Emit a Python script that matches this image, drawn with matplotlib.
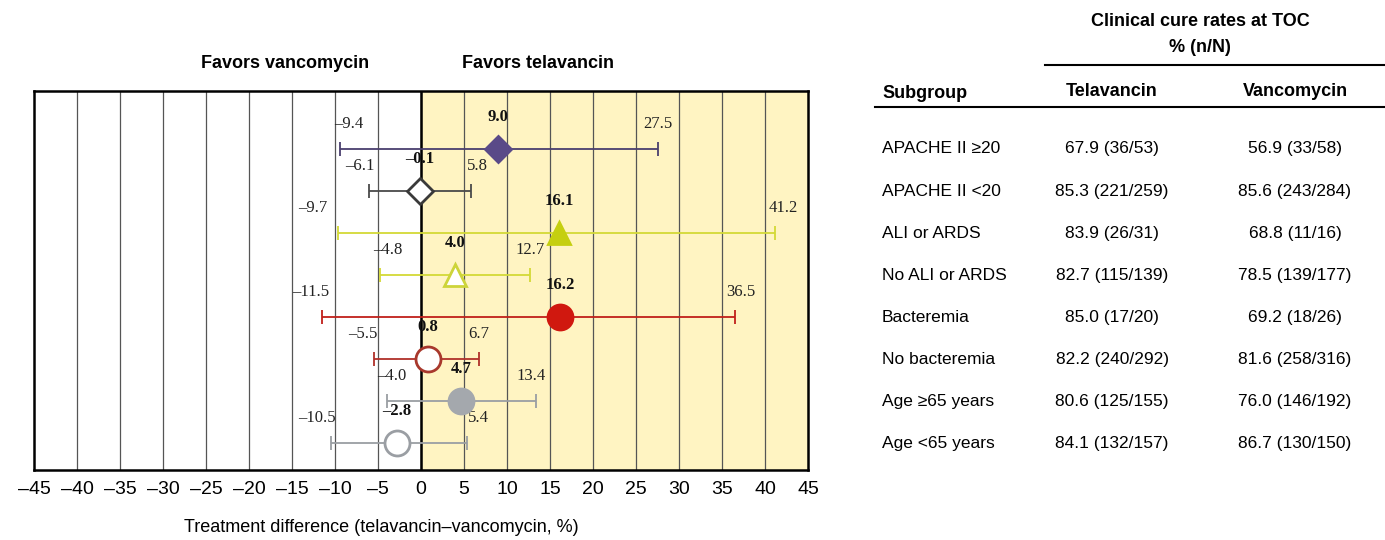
import matplotlib
matplotlib.use("Agg")
import matplotlib.pyplot as plt
import matplotlib.transforms as mtransforms

# Subgroup data: treatment difference with 95% CI, cure rates per arm
subgroups = ["APACHE II \u226520", "APACHE II <20", "ALI or ARDS", "No ALI or ARDS",
             "Bacteremia", "No bacteremia", "Age \u226565 years", "Age <65 years"]
diff = [9.0, -0.1, 16.1, 4.0, 16.2, 0.8, 4.7, -2.8]
ci_low = [-9.4, -6.1, -9.7, -4.8, -11.5, -5.5, -4.0, -10.5]
ci_high = [27.5, 5.8, 41.2, 12.7, 36.5, 6.7, 13.4, 5.4]
telavancin = ["67.9 (36/53)", "85.3 (221/259)", "83.9 (26/31)", "82.7 (115/139)",
              "85.0 (17/20)", "82.2 (240/292)", "80.6 (125/155)", "84.1 (132/157)"]
vancomycin = ["56.9 (33/58)", "85.6 (243/284)", "68.8 (11/16)", "78.5 (139/177)",
              "69.2 (18/26)", "81.6 (258/316)", "76.0 (146/192)", "86.7 (130/150)"]

# look of each row
line_col = ["#4a3f6e", "#4a4a4a", "#d3d936", "#d3d936", "#c0201a", "#b0302a", "#9a9ea3", "#9a9ea3"]
face_col = ["#5a4a88", "white", "#c5cf10", "white", "#d0180f", "white", "#a4a8ad", "white"]
edge_col = ["#5a4a88", "#3a3a3a", "#c5cf10", "#cdd43a", "#d0180f", "#a8382c", "#a4a8ad", "#9a9ea3"]
markers = ["D", "D", "^", "^", "o", "o", "o", "o"]
msize = [13, 13, 16, 16, 18, 18, 18, 18]
# nudges (points) for the crowded left-end labels
left_dx = [6, -6, -18, 6, -8, -8, 4, -10]
right_dx = [0, 5, 6, 0, 4, 0, -4, 8]

sans = ["Liberation Sans", "DejaVu Sans"]
serif = ["Liberation Serif", "DejaVu Serif"]
plt.rcParams["font.family"] = sans
minus = lambda v: f"{v:.1f}".replace("-", "\u2013")

fig = plt.figure(figsize=(13.85, 5.4), dpi=100)
ax = fig.add_axes([34 / 1385, 1 - 470 / 540, 774 / 1385, 379 / 540])

rows = list(range(len(subgroups)))
ax.axvspan(0, 45, color="#fff4c2", zorder=0)
for x in range(-40, 45, 5):
    ax.axvline(x, color="#555555", lw=0.9, zorder=1)
ax.axvline(0, color="black", lw=1.8, zorder=2)

for i in rows:
    ax.errorbar(diff[i], i, xerr=[[diff[i] - ci_low[i]], [ci_high[i] - diff[i]]],
                fmt="none", ecolor=line_col[i], elinewidth=1.3, capsize=5, capthick=1.3, zorder=3)
    ax.plot(diff[i], i, marker=markers[i], ms=msize[i], mfc=face_col[i], mec=edge_col[i],
            mew=2, ls="none", zorder=4)
    ax.annotate(minus(ci_low[i]), (ci_low[i], i), xytext=(left_dx[i], 12), textcoords="offset points",
                ha="center", va="bottom", fontsize=12, family=serif, color="#222222")
    ax.annotate(minus(ci_high[i]), (ci_high[i], i), xytext=(right_dx[i], 12), textcoords="offset points",
                ha="center", va="bottom", fontsize=12, family=serif, color="#222222")
    ax.annotate(minus(diff[i]), (diff[i], i), xytext=(0, 17), textcoords="offset points",
                ha="center", va="bottom", fontsize=12, family=serif, fontweight="bold", color="#111111")

ax.set_xlim(-45, 45)
ax.set_ylim(7.64, -1.38)
ax.set_yticks([])
ax.set_xticks(range(-45, 50, 5))
ax.set_xticklabels([minus(x).replace(".0", "") for x in range(-45, 50, 5)])
ax.tick_params(axis="x", length=0, pad=8, labelsize=14)
for s in ax.spines.values():
    s.set_linewidth(1.8)
    s.set_color("black")

fig.text(285 / 1385, 1 - 63 / 540, "Favors vancomycin", ha="center", va="center",
         fontsize=13, fontweight="bold")
fig.text(538 / 1385, 1 - 63 / 540, "Favors telavancin", ha="center", va="center",
         fontsize=13, fontweight="bold")
fig.text(381 / 1385, 1 - 527 / 540, "Treatment difference (telavancin\u2013vancomycin, %)",
         ha="center", va="center", fontsize=13)

# table on the right, rows tied to the forest plot rows
tr = mtransforms.blended_transform_factory(fig.transFigure, ax.transData)
for i in rows:
    fig.text(882 / 1385, i, subgroups[i], transform=tr, ha="left", va="center", fontsize=12.5)
    fig.text(1112 / 1385, i, telavancin[i], transform=tr, ha="center", va="center", fontsize=12.5)
    fig.text(1295 / 1385, i, vancomycin[i], transform=tr, ha="center", va="center", fontsize=12.5)

fig.text(1200 / 1385, 1 - 21 / 540, "Clinical cure rates at TOC", ha="center", va="center",
         fontsize=13, fontweight="bold")
fig.text(1200 / 1385, 1 - 47 / 540, "% (n/N)", ha="center", va="center", fontsize=13, fontweight="bold")
fig.add_artist(plt.Line2D([1045 / 1385, 1], [1 - 65 / 540] * 2, color="black", lw=1.5))
fig.text(882 / 1385, 1 - 93 / 540, "Subgroup", ha="left", va="center", fontsize=13, fontweight="bold")
fig.text(1112 / 1385, 1 - 91 / 540, "Telavancin", ha="center", va="center", fontsize=13, fontweight="bold")
fig.text(1295 / 1385, 1 - 91 / 540, "Vancomycin", ha="center", va="center", fontsize=13, fontweight="bold")
fig.add_artist(plt.Line2D([875 / 1385, 1], [1 - 107 / 540] * 2, color="black", lw=1.5))

fig.savefig("out.png", dpi=100)
